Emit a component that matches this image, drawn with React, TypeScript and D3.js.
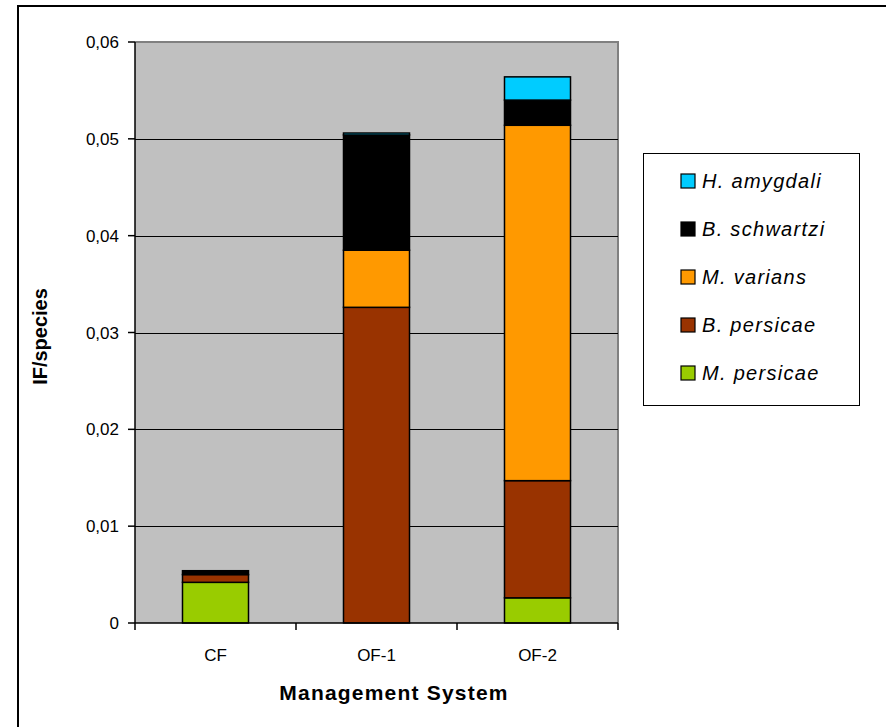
import React, { useRef, useEffect } from 'react';
import * as d3 from 'd3';

const categories = ['CF', 'OF-1', 'OF-2'];
const species = ['M. persicae', 'B. persicae', 'M. varians', 'B. schwartzi', 'H. amygdali'];
const colors = ['#99CC00', '#993300', '#FF9900', '#000000', '#00CCFF'];

const mPersicae = [0.0042, 0, 0.0026];
const bPersicae = [0.0008, 0.0326, 0.0121];
const mVarians = [0, 0.0059, 0.0367];
const bSchwartzi = [0.0004, 0.0119, 0.0026];
const hAmygdali = [0, 0.0002, 0.0024];

const yTicks = [0, 0.01, 0.02, 0.03, 0.04, 0.05, 0.06];

const W = 886;
const H = 727;

export default function App() {
    const svgRef = useRef<SVGSVGElement>(null);

    useEffect(() => {
        if (!svgRef.current) return;
        const svg = d3.select(svgRef.current);
        svg.selectAll('*').remove();

        const plot = { left: 135, top: 42, right: 618, bottom: 623 };
        const font = 'Liberation Sans, Arial, sans-serif';

        // outer frame (right and bottom fall outside the picture)
        svg.append('rect')
            .attr('x', 18).attr('y', 6)
            .attr('width', 1000).attr('height', 1000)
            .attr('fill', 'white')
            .attr('stroke', 'black').attr('stroke-width', 2);

        const x = d3.scaleBand<string>()
            .domain(categories)
            .range([plot.left, plot.right])
            .paddingInner(0.59)
            .paddingOuter(0.295);

        const y = d3.scaleLinear()
            .domain([0, 0.06])
            .range([plot.bottom, plot.top]);

        // plot background
        svg.append('rect')
            .attr('x', plot.left).attr('y', plot.top)
            .attr('width', plot.right - plot.left)
            .attr('height', plot.bottom - plot.top)
            .attr('fill', '#C0C0C0');

        // top and right border in grey
        svg.append('path')
            .attr('d', `M${plot.left},${plot.top}H${plot.right}V${plot.bottom}`)
            .attr('fill', 'none')
            .attr('stroke', '#808080').attr('stroke-width', 2);

        // gridlines
        svg.append('g').selectAll('line')
            .data(yTicks.filter(t => t > 0 && t < 0.06))
            .join('line')
            .attr('x1', plot.left).attr('x2', plot.right)
            .attr('y1', d => Math.round(y(d)) + 0.5)
            .attr('y2', d => Math.round(y(d)) + 0.5)
            .attr('stroke', 'black').attr('stroke-width', 1);

        // stacked bars
        const table = categories.map((c, i) => ({
            cat: c,
            'M. persicae': mPersicae[i],
            'B. persicae': bPersicae[i],
            'M. varians': mVarians[i],
            'B. schwartzi': bSchwartzi[i],
            'H. amygdali': hAmygdali[i],
        }));
        const stack = d3.stack<any>().keys(species)(table);

        stack.forEach((layer, li) => {
            svg.append('g').selectAll('rect')
                .data(layer.filter(d => d[1] - d[0] > 0))
                .join('rect')
                .attr('x', d => x(d.data.cat)!)
                .attr('width', x.bandwidth())
                .attr('y', d => y(d[1]))
                .attr('height', d => y(d[0]) - y(d[1]))
                .attr('fill', colors[li])
                .attr('stroke', 'black').attr('stroke-width', 1.5);
        });

        // y axis
        svg.append('line')
            .attr('x1', plot.left).attr('x2', plot.left)
            .attr('y1', plot.top).attr('y2', plot.bottom)
            .attr('stroke', 'black').attr('stroke-width', 1.5);
        const yt = svg.append('g');
        yt.selectAll('line')
            .data(yTicks)
            .join('line')
            .attr('x1', plot.left - 7).attr('x2', plot.left)
            .attr('y1', d => y(d)).attr('y2', d => y(d))
            .attr('stroke', 'black').attr('stroke-width', 1.5);
        yt.selectAll('text')
            .data(yTicks)
            .join('text')
            .attr('x', plot.left - 16)
            .attr('y', d => y(d) + 6)
            .attr('text-anchor', 'end')
            .attr('font-family', font)
            .attr('font-size', 17)
            .text(d => d === 0 ? '0' : d3.format('.2f')(d).replace('.', ','));

        // x axis
        svg.append('line')
            .attr('x1', plot.left).attr('x2', plot.right)
            .attr('y1', plot.bottom).attr('y2', plot.bottom)
            .attr('stroke', 'black').attr('stroke-width', 1.5);
        const step = (plot.right - plot.left) / categories.length;
        svg.append('g').selectAll('line')
            .data(d3.range(categories.length + 1))
            .join('line')
            .attr('x1', i => plot.left + i * step).attr('x2', i => plot.left + i * step)
            .attr('y1', plot.bottom).attr('y2', plot.bottom + 7)
            .attr('stroke', 'black').attr('stroke-width', 1.5);
        svg.append('g').selectAll('text')
            .data(categories)
            .join('text')
            .attr('x', d => x(d)! + x.bandwidth() / 2)
            .attr('y', 661)
            .attr('text-anchor', 'middle')
            .attr('font-family', font)
            .attr('font-size', 17)
            .text(d => d);

        // axis titles
        svg.append('text')
            .attr('x', 394)
            .attr('y', 700)
            .attr('text-anchor', 'middle')
            .attr('font-family', font)
            .attr('font-weight', 'bold')
            .attr('font-size', 21)
            .attr('letter-spacing', 1.2)
            .text('Management System');
        svg.append('text')
            .attr('transform', `translate(47,${(plot.top + plot.bottom) / 2 + 4}) rotate(-90)`)
            .attr('text-anchor', 'middle')
            .attr('font-family', font)
            .attr('font-weight', 'bold')
            .attr('font-size', 20)
            .text('IF/species');

        // legend
        const lg = svg.append('g');
        lg.append('rect')
            .attr('x', 643.5).attr('y', 153.5)
            .attr('width', 216).attr('height', 252)
            .attr('fill', 'white')
            .attr('stroke', 'black').attr('stroke-width', 1);
        const legendOrder = d3.range(species.length).reverse();
        const ly = d3.scalePoint<number>()
            .domain(legendOrder)
            .range([181, 373]);
        const items = lg.selectAll('g.item')
            .data(legendOrder)
            .join('g')
            .attr('class', 'item')
            .attr('transform', i => `translate(681,${ly(i)})`);
        items.append('rect')
            .attr('x', 0).attr('y', -7)
            .attr('width', 14).attr('height', 14)
            .attr('fill', i => colors[i])
            .attr('stroke', 'black').attr('stroke-width', 1.2);
        items.append('text')
            .attr('x', 21).attr('y', 7)
            .attr('font-family', font)
            .attr('font-style', 'italic')
            .attr('font-size', 20)
            .attr('letter-spacing', 1.3)
            .text(i => species[i]);
    }, []);

    return (
        <svg
            ref={svgRef}
            width={W}
            height={H}
            style={{ position: 'absolute', left: 0, top: 0, background: 'white' }}
        />
    );
}
